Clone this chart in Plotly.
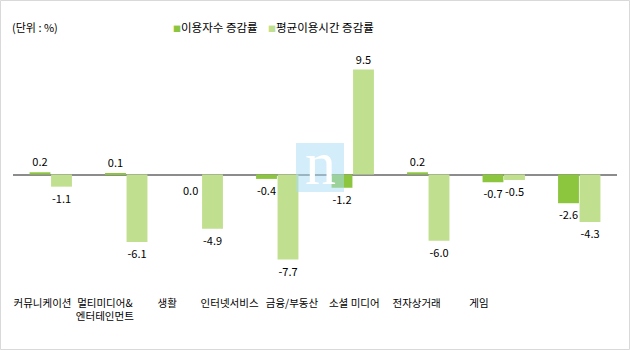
import plotly.graph_objects as go

# Categories and year-over-year change rates (%)
categories = ["커뮤니케이션", "멀티미디어&<br>엔터테인먼트", "생활", "인터넷서비스",
              "금융/부동산", "소셜 미디어", "전자상거래", "게임"]
users_change = [0.2, 0.1, 0.0, -0.4, -1.2, 0.2, -0.7, -2.6]
time_change = [-1.1, -6.1, -4.9, -7.7, 9.5, -6.0, -0.5, -4.3]
series_names = ["이용자수 증감률", "평균이용시간 증감률"]
series_colors = ["#8cc63f", "#c0df8f"]
unit_label = "(단위 : %)"

FONT = "Noto Sans CJK KR"
W, H = 630, 350
ML, MR, MT, MB = 13, 13, 64, 65
PW, PH = W - ML - MR, H - MT - MB
BARGAP = 0.43
n = len(categories)
idx = list(range(n))

fig = go.Figure()
for k, (name, vals, col) in enumerate(zip(series_names, [users_change, time_change], series_colors)):
    # zero values get their label placed below the axis line separately
    pos = ["none" if v == 0 else "outside" for v in vals]
    fig.add_trace(go.Bar(
        x=idx, y=vals, name=name,
        marker=dict(color=col, line=dict(width=0)),
        texttemplate="%{y:.1f}", textposition=pos,
        textfont=dict(size=11, color="black", family=FONT),
        cliponaxis=False, showlegend=False,
    ))
    offset = (1 - BARGAP) / 4 * (1 if k else -1)
    for i, v in enumerate(vals):
        if v == 0:
            fig.add_annotation(x=i + offset, y=0, xref="x", yref="y",
                               text=f"{v:.1f}", showarrow=False,
                               yanchor="top", yshift=-5,
                               font=dict(size=11, color="black", family=FONT))

# Category labels on a secondary axis
fig.add_trace(go.Scatter(x=idx, y=[None] * n, xaxis="x2", yaxis="y",
                         mode="markers", showlegend=False, hoverinfo="skip"))

# Hand-built legend: small coloured square followed by the series name
legend_x = [(171 - ML) / PW, (266 - ML) / PW]
for name, col, lx in zip(series_names, series_colors, legend_x):
    fig.add_annotation(
        xref="paper", yref="paper", x=lx, y=(PH + MT - 27) / PH,
        xanchor="left", yanchor="middle", showarrow=False,
        text=f"<span style='color:{col};font-size:8px'>■</span>{name}",
        font=dict(size=11.5, color="black", family=FONT),
    )

fig.add_annotation(
    xref="paper", yref="paper", x=(10 - ML) / PW, y=(PH + MT - 27) / PH,
    xanchor="left", yanchor="middle", showarrow=False, text=unit_label,
    font=dict(size=11, color="black", family=FONT),
)

# Outer frame
fig.add_shape(type="rect", xref="paper", yref="paper",
              x0=(0.5 - ML) / PW, x1=(W - 0.5 - ML) / PW,
              y0=(PH + MT - (H - 0.5)) / PH, y1=(PH + MT - 0.5) / PH,
              line=dict(color="#d9d9d9", width=1), layer="below")

# Logo badge
fig.add_shape(type="rect", xref="paper", yref="paper",
              x0=(296 - ML) / PW, x1=(344 - ML) / PW,
              y0=(PH + MT - 192) / PH, y1=(PH + MT - 143) / PH,
              fillcolor="rgba(170,220,245,0.5)", line=dict(width=0), layer="above")
fig.add_annotation(xref="paper", yref="paper", x=(320 - ML) / PW, y=(PH + MT - 163) / PH,
                   text="n", showarrow=False, xanchor="center", yanchor="middle",
                   font=dict(size=62, color="white", family="Liberation Serif"))

fig.update_layout(
    width=W, height=H,
    margin=dict(l=ML, r=MR, t=MT, b=MB, pad=0),
    paper_bgcolor="white", plot_bgcolor="white",
    font=dict(family=FONT, size=11, color="black"),
    barmode="group", bargap=BARGAP, bargroupgap=0.03,
    xaxis=dict(range=[-0.5, n - 0.5], showticklabels=False, showgrid=False,
               showline=False, zeroline=False, ticks=""),
    xaxis2=dict(overlaying="x", anchor="y", side="bottom",
                range=[-0.473, 9.213], tickmode="array",
                tickvals=idx, ticktext=categories, ticklabelstandoff=10,
                tickfont=dict(size=10.5, color="black", family=FONT),
                showgrid=False, showline=False, zeroline=False, ticks=""),
    yaxis=dict(range=[-10, 10], showticklabels=False, showgrid=False,
               showline=False, zeroline=True, zerolinecolor="#8c8c8c",
               zerolinewidth=1.5, ticks=""),
)

fig.write_html("out.html")
